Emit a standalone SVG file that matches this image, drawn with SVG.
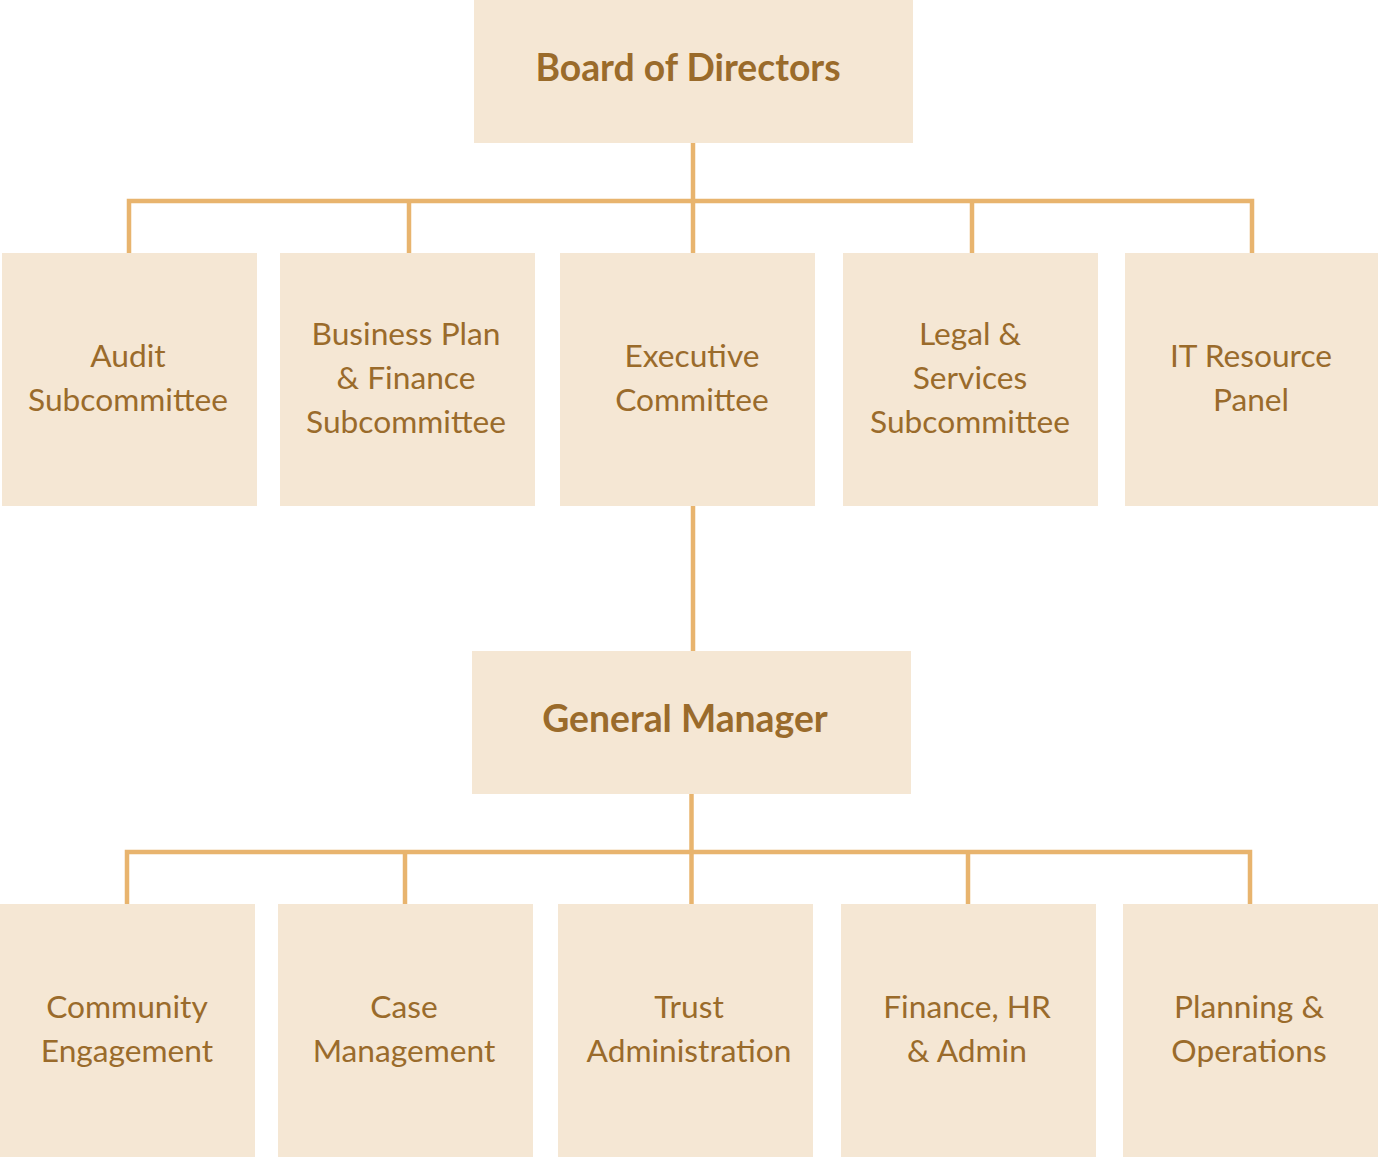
<svg xmlns="http://www.w3.org/2000/svg" width="1378" height="1157" viewBox="0 0 1378 1157">
  <style>
    .box { fill: #F5E7D4; }
    .lbl { font-family: Lato, "Liberation Sans", sans-serif; font-size: 31.7px; fill: #9A6B2B; text-anchor: middle; }
    .head { font-family: Lato, "Liberation Sans", sans-serif; font-size: 37.3px; font-weight: bold; fill: #9A6B2B; text-anchor: middle; }
    .wire { stroke: #E8B46E; stroke-width: 4.5; fill: none; }
  </style>
  <rect width="1378" height="1157" fill="#FFFFFF"/>

  <!-- connectors -->
  <g id="connectors">
    <path class="wire" d="M693 143 V256"/>
    <path class="wire" d="M129 256 V201 H1252 V256"/>
    <path class="wire" d="M409 201 V256"/>
    <path class="wire" d="M972 201 V256"/>
    <path class="wire" d="M693 505 V652"/>
    <path class="wire" d="M691.5 794 V905"/>
    <path class="wire" d="M127 907 V852 H1250 V907"/>
    <path class="wire" d="M405 852 V907"/>
    <path class="wire" d="M968 852 V907"/>
  </g>

  <!-- top level -->
  <g id="board">
    <rect class="box" x="474" y="0" width="439" height="143"/>
    <text class="head" x="688" y="81">Board of Directors</text>
  </g>

  <!-- committees -->
  <g id="audit">
    <rect class="box" x="2" y="253" width="255" height="253"/>
    <text class="lbl" x="128" y="367">Audit</text>
    <text class="lbl" x="128" y="411">Subcommittee</text>
  </g>
  <g id="business-plan">
    <rect class="box" x="280" y="253" width="255" height="253"/>
    <text class="lbl" x="406" y="345">Business Plan</text>
    <text class="lbl" x="406" y="389">&amp; Finance</text>
    <text class="lbl" x="406" y="433">Subcommittee</text>
  </g>
  <g id="executive">
    <rect class="box" x="560" y="253" width="255" height="253"/>
    <text class="lbl" x="692" y="367">Executive</text>
    <text class="lbl" x="692" y="411">Committee</text>
  </g>
  <g id="legal">
    <rect class="box" x="843" y="253" width="255" height="253"/>
    <text class="lbl" x="970" y="345">Legal &amp;</text>
    <text class="lbl" x="970" y="389">Services</text>
    <text class="lbl" x="970" y="433">Subcommittee</text>
  </g>
  <g id="it-panel">
    <rect class="box" x="1125" y="253" width="253" height="253"/>
    <text class="lbl" x="1251" y="367">IT Resource</text>
    <text class="lbl" x="1251" y="411">Panel</text>
  </g>

  <!-- management -->
  <g id="general-manager">
    <rect class="box" x="472" y="651" width="439" height="143"/>
    <text class="head" x="685" y="732">General Manager</text>
  </g>

  <!-- departments -->
  <g id="community">
    <rect class="box" x="0" y="904" width="255" height="253"/>
    <text class="lbl" x="127" y="1018">Community</text>
    <text class="lbl" x="127" y="1062">Engagement</text>
  </g>
  <g id="case">
    <rect class="box" x="278" y="904" width="255" height="253"/>
    <text class="lbl" x="404" y="1018">Case</text>
    <text class="lbl" x="404" y="1062">Management</text>
  </g>
  <g id="trust">
    <rect class="box" x="558" y="904" width="255" height="253"/>
    <text class="lbl" x="689" y="1018">Trust</text>
    <text class="lbl" x="689" y="1062">Administration</text>
  </g>
  <g id="finance">
    <rect class="box" x="841" y="904" width="255" height="253"/>
    <text class="lbl" x="967" y="1018">Finance, HR</text>
    <text class="lbl" x="967" y="1062">&amp; Admin</text>
  </g>
  <g id="planning">
    <rect class="box" x="1123" y="904" width="255" height="253"/>
    <text class="lbl" x="1249" y="1018">Planning &amp;</text>
    <text class="lbl" x="1249" y="1062">Operations</text>
  </g>
</svg>
